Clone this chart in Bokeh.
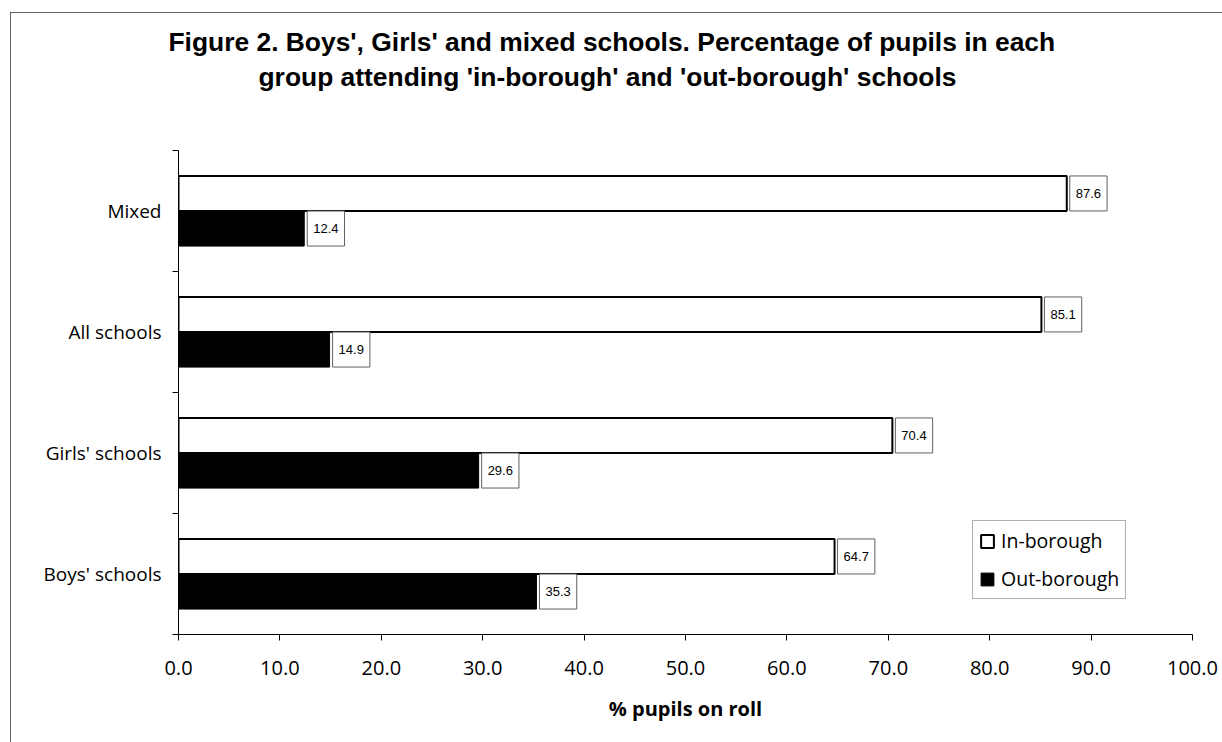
from bokeh.plotting import figure
from bokeh.models import (Range1d, FixedTicker, PrintfTickFormatter, Legend,
                          LegendItem, Title)
from bokeh.core.properties import value
from bokeh.embed import file_html
from bokeh.resources import INLINE

# School groups, bottom to top
categories = ["Boys' schools", "Girls' schools", "All schools", "Mixed"]
in_borough = [64.7, 70.4, 85.1, 87.6]
out_borough = [35.3, 29.6, 14.9, 12.4]
series_names = ["In-borough", "Out-borough"]
x_ticks = [0, 10, 20, 30, 40, 50, 60, 70, 80, 90, 100]

title_lines = [
    "Figure 2. Boys', Girls' and mixed schools. Percentage of pupils in each",
    "group attending 'in-borough' and 'out-borough' schools",
]

SANS = "Open Sans"
BAR_H = 0.29
OFFSET = 0.145

centers = [i + 0.5 for i in range(len(categories))]
in_y = [c + OFFSET for c in centers]
out_y = [c - OFFSET for c in centers]

p = figure(width=1212, height=730, output_backend="svg", toolbar_location=None,
           x_range=Range1d(0, 100), y_range=Range1d(0, len(categories)),
           min_border_left=168, min_border_right=30,
           min_border_top=138, min_border_bottom=108,
           background_fill_color="white", border_fill_color="white",
           margin=(12, 0, 0, 10),
           styles={"outline": "1.5px solid #303030", "outline-offset": "-1.5px"})
p.title.visible = False
p.outline_line_color = None
p.grid.grid_line_color = None

r_in = p.hbar(y=in_y, left=0, right=in_borough, height=BAR_H,
              fill_color="white", line_color="black", line_width=2)
r_out = p.hbar(y=out_y, left=0, right=out_borough, height=BAR_H,
               fill_color="black", line_color="black", line_width=1)

# value boxes at the end of each bar
pad = {"left": 6, "right": 6, "top": 13, "bottom": 13}
for ys, vals in ((in_y, in_borough), (out_y, out_borough)):
    p.text(x=vals, y=ys, text=[f"{v:.1f}" for v in vals],
           x_offset=3, text_align="left", text_baseline="middle",
           text_font=value("Liberation Sans"), text_font_size="13px",
           text_color="black", background_fill_color="white",
           border_line_color="#606060", border_line_width=1, padding=pad)

# x axis
xa = p.xaxis[0]
xa.ticker = FixedTicker(ticks=x_ticks)
xa.formatter = PrintfTickFormatter(format="%.1f")
xa.axis_label = "% pupils on roll"
xa.axis_label_text_font = SANS
xa.axis_label_text_font_size = "20px"
xa.axis_label_text_font_style = "bold"
xa.axis_label_text_color = "black"
xa.axis_label_standoff = 17
xa.major_label_text_font = SANS
xa.major_label_text_font_size = "20px"
xa.major_label_text_color = "black"
xa.major_label_standoff = 20
xa.major_tick_out = 6
xa.major_tick_in = 0
xa.minor_tick_line_color = None
xa.axis_line_color = "black"
xa.major_tick_line_color = "black"

# y axis: names centred in each band, ticks on the band edges
ya = p.yaxis[0]
ya.ticker = FixedTicker(ticks=centers,
                        minor_ticks=list(range(len(categories) + 1)))
ya.major_label_overrides = {c: name for c, name in zip(centers, categories)}
ya.major_label_text_font = SANS
ya.major_label_text_font_size = "19px"
ya.major_label_text_color = "black"
ya.major_label_standoff = 11
ya.major_tick_out = 0
ya.major_tick_in = 0
ya.minor_tick_out = 6
ya.minor_tick_in = 0
ya.minor_tick_line_color = "black"
ya.axis_line_color = "black"

legend = Legend(items=[LegendItem(label=series_names[0], renderers=[r_in]),
                       LegendItem(label=series_names[1], renderers=[r_out])],
                location=(794, 35), orientation="vertical",
                label_text_font=SANS, label_text_font_size="19.5px",
                label_text_color="black", glyph_width=16, glyph_height=16,
                label_standoff=6, label_height=23, spacing=11, padding=6,
                margin=0, border_line_color="#606060", border_line_width=1,
                background_fill_color="white", background_fill_alpha=1)
p.add_layout(legend)

# blank gap between the plot area and the title
p.add_layout(Title(text=" ", standoff=56, text_font_size="1px"), "above")

# two-line chart title, second line nearest the plot
title_offsets = [-10, 80]
title_standoffs = [6, 0]
for line, off, so in reversed(list(zip(title_lines, title_offsets, title_standoffs))):
    p.add_layout(Title(text=line, align="left", offset=off, standoff=so,
                       text_font="Liberation Sans", text_font_style="bold",
                       text_font_size="26.4px", text_color="black"), "above")

open("out.html", "w").write(file_html(p, INLINE))
